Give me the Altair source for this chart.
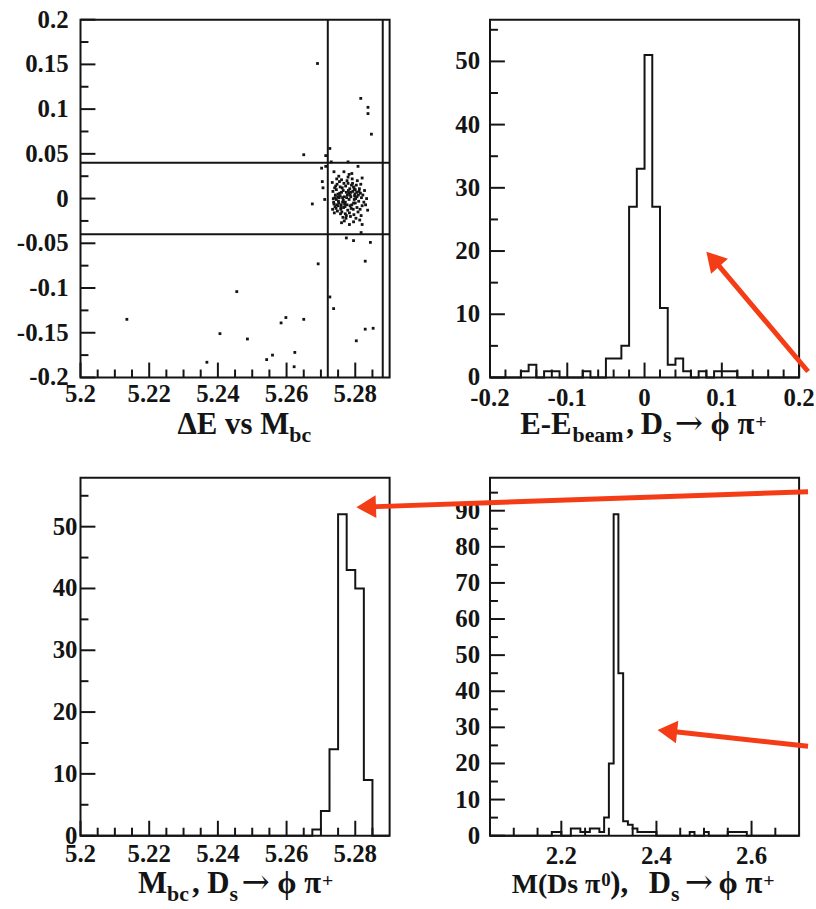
import altair as alt
import pandas as pd

SERIF = "Liberation Serif"
ARROW_FONT = "DejaVu Serif"
INK = "#141414"
RED = "#f43c17"

# ---------------- data ----------------
# Panel 1: Delta E vs M_bc scatter (outliers, then the signal cluster)
MBC_PTS = [
    5.2690, 5.2816, 5.2837, 5.2837, 5.2847, 5.2650, 5.2726, 5.2714, 5.2702, 5.2675,
    5.2711, 5.2704, 5.2692, 5.2455, 5.2726, 5.2737, 5.2135, 5.2598, 5.2650, 5.2584,
    5.2406, 5.2486, 5.2559, 5.2542, 5.2624, 5.2368, 5.2622, 5.2803, 5.2829, 5.2852,
    5.2829, 5.2844, 5.2795, 5.2774, 5.2817, 5.2820, 5.2779, 5.2808, 5.2730, 5.2738,
    5.2714, 5.2706,
    5.2775, 5.2785, 5.2765, 5.2795, 5.2755, 5.2780, 5.2770, 5.2805, 5.2745, 5.2790,
    5.2760, 5.2800, 5.2750, 5.2772, 5.2778, 5.2788, 5.2762, 5.2810, 5.2742, 5.2815,
    5.2738, 5.2795, 5.2758, 5.2783, 5.2767, 5.2787, 5.2763, 5.2797, 5.2753, 5.2805,
    5.2745, 5.2820, 5.2740, 5.2776, 5.2774, 5.2792, 5.2757, 5.2812, 5.2748, 5.2781,
    5.2769, 5.2799, 5.2751, 5.2784, 5.2766, 5.2803, 5.2747, 5.2818, 5.2736, 5.2779,
    5.2773, 5.2808, 5.2744, 5.2825, 5.2735, 5.2791, 5.2760, 5.2786, 5.2764, 5.2777,
    5.2771, 5.2793, 5.2759, 5.2801, 5.2749, 5.2789, 5.2761, 5.2814, 5.2743, 5.2830,
    5.2782, 5.2768, 5.2806, 5.2754, 5.2816, 5.2739, 5.2796, 5.2756, 5.2782, 5.2768,
    5.2798, 5.2752, 5.2811, 5.2741, 5.2785, 5.2765, 5.2794, 5.2756, 5.2822, 5.2737,
    5.2779, 5.2771, 5.2802, 5.2752, 5.2827, 5.2733, 5.2790, 5.2760, 5.2813, 5.2746,
    5.2776, 5.2774, 5.2787, 5.2763, 5.2800, 5.2750, 5.2809, 5.2741, 5.2833, 5.2797,
    5.2758, 5.2804, 5.2746, 5.2817, 5.2734, 5.2836, 5.2783, 5.2767, 5.2820, 5.2795,
]
DE_PTS = [
    0.151, 0.112, 0.102, 0.095, 0.072, 0.049, 0.056, 0.048, 0.034, -0.006,
    -0.001, 0.019, -0.073, -0.104, -0.110, -0.123, -0.135, -0.133, -0.135, -0.139,
    -0.151, -0.157, -0.175, -0.180, -0.172, -0.183, -0.188, -0.159, -0.146, -0.145,
    -0.070, -0.049, -0.047, -0.044, -0.038, -0.029, 0.041, 0.036, 0.041, 0.030,
    0.036, 0.012,
    0.001, 0.004, -0.002, -0.005, 0.006, 0.009, -0.009, 0.002, -0.001, -0.007,
    0.007, 0.010, -0.008, 0.014, -0.013, -0.011, 0.012, -0.003, 0.004, 0.006,
    -0.006, 0.013, -0.012, -0.016, 0.017, 0.002, -0.004, -0.001, 0.001, -0.010,
    0.010, -0.008, 0.012, 0.020, -0.019, 0.017, -0.017, 0.011, -0.014, 0.006,
    -0.006, 0.005, -0.003, 0.011, -0.010, 0.015, 0.016, 0.001, 0.000, 0.024,
    -0.022, -0.015, -0.011, -0.004, 0.008, 0.022, 0.021, -0.020, -0.021, 0.004,
    -0.004, 0.008, -0.007, 0.000, 0.002, 0.015, -0.015, -0.012, 0.014, -0.007,
    0.027, -0.025, 0.020, 0.019, 0.016, -0.016, -0.018, 0.003, -0.001, 0.002,
    0.003, -0.005, 0.008, -0.009, -0.008, 0.009, -0.012, 0.013, 0.004, -0.004,
    0.017, -0.017, -0.022, 0.025, 0.009, 0.018, 0.028, -0.027, -0.024, 0.022,
    -0.007, 0.007, 0.007, 0.001, -0.005, 0.005, 0.004, 0.001, 0.000, 0.011,
    -0.010, 0.007, -0.007, -0.019, -0.012, -0.013, -0.029, 0.030, 0.023, -0.026,
]
CUT_MBC = [5.272, 5.288]
CUT_DE = [-0.04, 0.04]

# Panel 2: E - E_beam histogram (bin lower edge EB_LO, width EB_W)
EB_LO, EB_W = -0.2, 0.01
EB_COUNTS = [0, 0, 0, 0, 1, 2, 0, 1, 1, 0,
             0, 0, 1, 0, 0, 3, 3, 5, 27, 33,
             51, 27, 11, 2, 3, 1, 0, 1, 0, 1,
             1, 1, 0, 0, 0, 0, 0, 0, 0, 0]

# Panel 3: M_bc histogram
MBC_LO, MBC_W = 5.2, 0.0025
MBC_COUNTS = [0, 0, 0, 0, 0, 0, 0, 0, 0, 0,
              0, 0, 0, 0, 0, 0, 0, 0, 0, 0,
              0, 0, 0, 0, 0, 0, 0, 1, 4, 14,
              52, 43, 40, 9, 0, 0]

# Panel 4: M(Ds pi0) histogram
MDS_LO, MDS_W = 2.05, 0.01
MDS_COUNTS = [0, 0, 0, 0, 0, 0, 0, 0, 0, 0,
              0, 0, 0, 1, 1, 0, 0, 2, 2, 1,
              1, 2, 2, 1, 5, 20, 89, 45, 4, 3,
              2, 1, 1, 1, 1, 0, 0, 0, 0, 0,
              0, 0, 1, 0, 0, 1, 0, 0, 0, 0,
              1, 1, 1, 1, 0, 0, 0, 0, 0, 0,
              0, 0, 0, 0, 0]

# axis tick values
P1X_MAJOR = [5.2, 5.22, 5.24, 5.26, 5.28]
P1X_MINOR = [5.205, 5.21, 5.215, 5.225, 5.23, 5.235, 5.245, 5.25, 5.255,
             5.265, 5.27, 5.275, 5.285]
P1Y_MAJOR = [-0.2, -0.15, -0.1, -0.05, 0, 0.05, 0.1, 0.15, 0.2]
P1Y_MINOR = [-0.175, -0.125, -0.075, -0.025, 0.025, 0.075, 0.125, 0.175]
P2X_MAJOR = [-0.2, -0.1, 0, 0.1, 0.2]
P2X_MINOR = [-0.18, -0.16, -0.14, -0.12, -0.08, -0.06, -0.04, -0.02,
             0.02, 0.04, 0.06, 0.08, 0.12, 0.14, 0.16, 0.18]
P23Y_MAJOR = [0, 10, 20, 30, 40, 50]
P23Y_MINOR = [5, 15, 25, 35, 45, 55]
P4X_MAJOR = [2.2, 2.4, 2.6]
P4X_MINOR = [2.1, 2.15, 2.25, 2.3, 2.35, 2.45, 2.5, 2.55, 2.65]
P4Y_MAJOR = [0, 10, 20, 30, 40, 50, 60, 70, 80, 90]
P4Y_MINOR = [5, 15, 25, 35, 45, 55, 65, 75, 85, 95]

# ---------------- layout ----------------
W, H = 311, 360
MAJ, MIN = 15, 8
LABEL_SIZE = 25
TITLE_SIZE = 31
SUB_SIZE = 22
SUP_SIZE = 20
ARROW_SIZE = 34
DUMMY = pd.DataFrame({"d": [0]})

S1X = alt.Scale(domain=[5.2, 5.29], nice=False, zero=False)
S1Y = alt.Scale(domain=[-0.2, 0.2], nice=False, zero=False)
S2X = alt.Scale(domain=[-0.2, 0.2], nice=False, zero=False)
S2Y = alt.Scale(domain=[0, 56.6], nice=False, zero=False)
S3X = alt.Scale(domain=[5.2, 5.29], nice=False, zero=False)
S3Y = alt.Scale(domain=[0, 57.9], nice=False, zero=False)
S4X = alt.Scale(domain=[2.05, 2.70], nice=False, zero=False)
S4Y = alt.Scale(domain=[0, 99.1], nice=False, zero=False)


def lab(v):
    return f"{v:g}"


def yticks(vals, length, scale):
    return alt.Chart(pd.DataFrame({"v": vals})).mark_rule(
        color=INK, strokeWidth=2).encode(
        y=alt.Y("v:Q", scale=scale, axis=None),
        x=alt.value(0), x2=alt.value(length))


def xticks(vals, length, scale):
    return alt.Chart(pd.DataFrame({"v": vals})).mark_rule(
        color=INK, strokeWidth=2).encode(
        x=alt.X("v:Q", scale=scale, axis=None),
        y=alt.value(H), y2=alt.value(H - length))


def ylabels(vals, pad, scale):
    df = pd.DataFrame({"v": vals, "t": [lab(v) for v in vals]})
    return alt.Chart(df).mark_text(
        align="right", baseline="middle", font=SERIF, fontWeight="bold",
        fontSize=LABEL_SIZE, color=INK).encode(
        y=alt.Y("v:Q", scale=scale, axis=None),
        x=alt.value(-pad), text="t:N")


def xlabels(vals, pad, scale):
    df = pd.DataFrame({"v": vals, "t": [lab(v) for v in vals]})
    return alt.Chart(df).mark_text(
        align="center", baseline="top", font=SERIF, fontWeight="bold",
        fontSize=LABEL_SIZE, color=INK).encode(
        x=alt.X("v:Q", scale=scale, axis=None),
        y=alt.value(H + pad), text="t:N")


def frame(sx, sy, xmaj, xmin, ymaj, ymin, xpad, ypad):
    return [xticks(xmaj, MAJ, sx), xticks(xmin, MIN, sx),
            yticks(ymaj, MAJ, sy), yticks(ymin, MIN, sy),
            xlabels(xmaj, xpad, sx), ylabels(ymaj, ypad, sy)]


def step_chart(lo, w, counts, sx, sy):
    edges = [round(lo + i * w, 6) for i in range(len(counts) + 1)]
    df = pd.DataFrame({"x": edges, "n": list(counts) + [counts[-1]]})
    return alt.Chart(df).mark_line(
        interpolate="step-after", color=INK, strokeWidth=2).encode(
        x=alt.X("x:Q", scale=sx, axis=None),
        y=alt.Y("n:Q", scale=sy, axis=None))


def piece(s, x, y, size, align="left", font=SERIF, weight="bold"):
    return alt.Chart(DUMMY).mark_text(
        align=align, baseline="alphabetic", font=font, fontWeight=weight,
        fontSize=size, color=INK).encode(
        x=alt.value(x), y=alt.value(y), text=alt.value(s))


def decay(x_arrow, x_plus, t, u):
    """'-> phi pi+' part of a title: arrow starts at x_arrow, pi ends at x_plus."""
    return [piece("→", x_arrow, t, ARROW_SIZE, font=ARROW_FONT, weight="normal"),
            piece("ϕ π", x_plus, t, TITLE_SIZE, "right"),
            piece("+", x_plus + 1, u, SUP_SIZE)]


def arrow(xt, yt, xh, yh, angle):
    shaft = alt.Chart(DUMMY).mark_rule(color=RED, strokeWidth=5).encode(
        x=alt.value(xt), y=alt.value(yt), x2=alt.value(xh), y2=alt.value(yh))
    head = alt.Chart(DUMMY).mark_point(
        shape="triangle", filled=True, size=520, color=RED, opacity=1,
        angle=angle).encode(x=alt.value(xh), y=alt.value(yh))
    return [shaft, head]


# title baselines per row (main, subscript, superscript)
T1, S1, U1 = 417, 425, 411
T2, S2, U2 = 418, 426, 412

# ---------------- panel 1 ----------------
points = alt.Chart(pd.DataFrame({"mbc": MBC_PTS, "de": DE_PTS})).mark_square(
    size=8, color=INK, opacity=1).encode(
    x=alt.X("mbc:Q", scale=S1X, axis=None),
    y=alt.Y("de:Q", scale=S1Y, axis=None))
cut_v = alt.Chart(pd.DataFrame({"v": CUT_MBC})).mark_rule(
    color=INK, strokeWidth=2).encode(x=alt.X("v:Q", scale=S1X, axis=None))
cut_h = alt.Chart(pd.DataFrame({"v": CUT_DE})).mark_rule(
    color=INK, strokeWidth=2).encode(y=alt.Y("v:Q", scale=S1Y, axis=None))
anchor = alt.Chart(DUMMY).mark_rule(color="white", strokeOpacity=0).encode(
    x=alt.value(-80), x2=alt.value(-79), y=alt.value(-16), y2=alt.value(-15))

p1 = alt.layer(
    points, cut_v, cut_h,
    *frame(S1X, S1Y, P1X_MAJOR, P1X_MINOR, P1Y_MAJOR, P1Y_MINOR, 5, 12),
    piece("ΔE vs M", 210, T1, TITLE_SIZE, "right"),
    piece("bc", 210, S1, SUB_SIZE),
    anchor,
).properties(width=W, height=H)

# ---------------- panel 2 ----------------
p2 = alt.layer(
    step_chart(EB_LO, EB_W, EB_COUNTS, S2X, S2Y),
    *frame(S2X, S2Y, P2X_MAJOR, P2X_MINOR, P23Y_MAJOR, P23Y_MINOR, 9, 10),
    piece("E-E", 82, T1, TITLE_SIZE, "right"),
    piece("beam", 83, S1, SUB_SIZE),
    piece(",", 137, T1, TITLE_SIZE),
    piece("D", 174, T1, TITLE_SIZE, "right"),
    piece("s", 174, S1, SUB_SIZE),
    *decay(186, 266, T1, U1),
    *arrow(320, 354, 226.5, 243.2, 318),
).properties(width=W, height=H)

# ---------------- panel 3 ----------------
p3 = alt.layer(
    step_chart(MBC_LO, MBC_W, MBC_COUNTS, S3X, S3Y),
    *frame(S3X, S3Y, P1X_MAJOR, P1X_MINOR, P23Y_MAJOR, P23Y_MINOR, 6, 3),
    piece("M", 87, T2, TITLE_SIZE, "right"),
    piece("bc", 87, S2, SUB_SIZE),
    piece(", D", 150, T2, TITLE_SIZE, "right"),
    piece("s", 150, S2, SUB_SIZE),
    *decay(162, 242, T2, U2),
).properties(width=W, height=H)

# ---------------- panel 4 ----------------
p4 = alt.layer(
    step_chart(MDS_LO, MDS_W, MDS_COUNTS, S4X, S4Y),
    *frame(S4X, S4Y, P4X_MAJOR, P4X_MINOR, P4Y_MAJOR, P4Y_MINOR, 9, 10),
    piece("M(Ds π", 111, T2, 28, "right"),
    piece("0", 112, T2 - 7, 19),
    piece("),", 121, T2, TITLE_SIZE),
    piece("D", 182, T2, TITLE_SIZE, "right"),
    piece("s", 182, S2, SUB_SIZE),
    *decay(196, 274, T2, U2),
    *arrow(320, 14, -121.3, 29.2, 268),
    *arrow(320, 270, 181.7, 255, 276),
).properties(width=W, height=H)

chart = alt.concat(
    p1, p2, p3, p4, columns=2, spacing=101, bounds="flush"
).properties(padding=0, background="white").configure_view(
    stroke=INK, strokeWidth=2)

chart.save("out.html", embed_options={"renderer": "svg", "actions": False})
